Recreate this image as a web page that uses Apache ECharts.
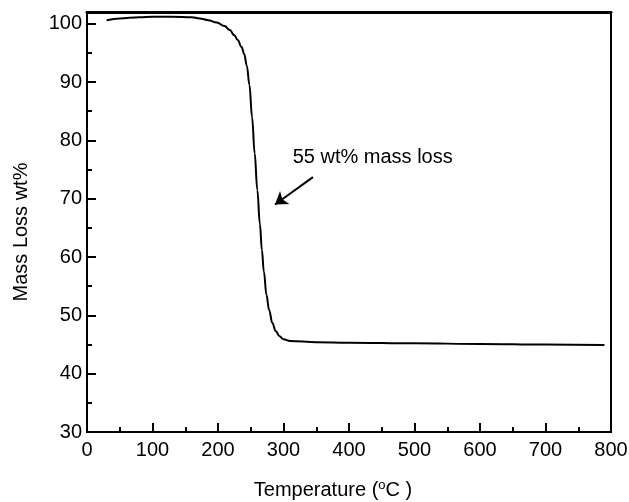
<!DOCTYPE html>
<html>
<head>
<meta charset="utf-8">
<script src="https://cdn.jsdelivr.net/npm/echarts@6/dist/echarts.min.js"></script>
<style>
  html, body { margin: 0; padding: 0; background: #fff; }
  #chart { width: 629px; height: 502px; }
</style>
</head>
<body>
<div id="chart"></div>
<script>
// TGA curve
var temps = [30, 50, 80, 100, 130, 160, 172, 185, 198, 210, 218, 225, 230, 236, 240, 244, 248, 252, 256, 260, 264, 267, 270, 274, 278, 283, 288, 294, 300, 310, 350, 400, 500, 600, 700, 790];
var mass = [100.6, 100.9, 101.1, 101.2, 101.2, 101.1, 100.9, 100.6, 100.2, 99.6, 98.9, 98.0, 97.2, 96.0, 94.8, 92.8, 89.5, 84.0, 77.8, 71.5, 65.6, 61.2, 57.5, 53.5, 50.9, 48.7, 47.3, 46.4, 45.9, 45.6, 45.4, 45.3, 45.2, 45.1, 45.0, 44.9];

var xTicks = [0, 100, 200, 300, 400, 500, 600, 700, 800];
var yTicks = [30, 40, 50, 60, 70, 80, 90, 100];

// annotation
var noteText = '55 wt% mass loss';
var notePos = [314, 77.1];
var arrowFrom = [345, 73.7];
var arrowTo = [287, 69.0];

var points = [];
for (var i = 0; i < temps.length; i++) {
	points.push([temps[i], mass[i]]);
}

var font = 'Liberation Sans, Arial, sans-serif';
var fs = 20;
var myChart = echarts.init(document.getElementById('chart'));

var option = {
	animation: false,
	grid: {
		left: 87, right: 18, top: 12, bottom: 70,
		outerBoundsMode: 'none',
		show: true, borderColor: '#000', borderWidth: 2
	},
	xAxis: [{
		type: 'value',
		min: xTicks[0],
		max: xTicks[xTicks.length - 1],
		interval: 100,
		name: '{a|Temperature (}{s|o}{a|C )}',
		nameLocation: 'middle',
		nameGap: 47,
		nameTextStyle: {
			padding: [0, 32, 0, 0],
			rich: {
				a: { fontFamily: font, fontSize: fs, color: '#000' },
				s: { fontFamily: font, fontSize: 13, color: '#000', verticalAlign: 'top', padding: [0, 0, 9, 0] }
			}
		},
		axisLine: { lineStyle: { color: '#000', width: 2 } },
		axisTick: { inside: true, length: 9, lineStyle: { color: '#000', width: 2 } },
		minorTick: { show: true, splitNumber: 2, length: 5, lineStyle: { color: '#000', width: 2 } },
		axisLabel: { color: '#000', fontFamily: font, fontSize: fs, margin: 8 },
		splitLine: { show: false }
	}, {
		type: 'value',
		position: 'top',
		min: xTicks[0],
		max: xTicks[xTicks.length - 1],
		axisLine: { show: true, lineStyle: { color: '#000', width: 3 } },
		axisTick: { show: false },
		axisLabel: { show: false },
		splitLine: { show: false }
	}],
	yAxis: [{
		type: 'value',
		min: yTicks[0],
		max: 102,
		interval: 10,
		name: 'Mass Loss wt%',
		nameLocation: 'middle',
		nameGap: 56,
		nameTextStyle: { color: '#000', fontFamily: font, fontSize: fs, padding: [0, 20, 0, 0] },
		axisLine: { show: true, lineStyle: { color: '#000', width: 2 } },
		axisTick: { inside: true, length: 9, lineStyle: { color: '#000', width: 2 } },
		minorTick: { show: true, splitNumber: 2, length: 5, lineStyle: { color: '#000', width: 2 } },
		axisLabel: {
			color: '#000', fontFamily: font, fontSize: fs, margin: 5,
			formatter: function (v) { return yTicks.indexOf(v) >= 0 ? v : ''; }
		},
		splitLine: { show: false }
	}, {
		type: 'value',
		position: 'right',
		min: yTicks[0],
		max: 102,
		axisLine: { show: true, lineStyle: { color: '#000', width: 2 } },
		axisTick: { show: false },
		axisLabel: { show: false },
		splitLine: { show: false }
	}],
	series: [{
		type: 'line',
		data: points,
		smooth: 0.4,
		smoothMonotone: 'x',
		showSymbol: false,
		lineStyle: { color: '#000', width: 2 },
		markLine: {
			silent: true,
			symbol: ['none', 'arrow'],
			symbolSize: 12,
			label: { show: false },
			lineStyle: { color: '#000', width: 2, type: 'solid' },
			data: [[{ coord: arrowFrom }, { coord: arrowTo }]]
		},
		markPoint: {
			silent: true,
			symbol: 'circle',
			symbolSize: 0,
			data: [{ coord: notePos }],
			label: {
				show: true,
				position: 'right',
				distance: 0,
				formatter: noteText,
				color: '#000',
				fontFamily: font,
				fontSize: fs
			}
		}
	}]
};

myChart.setOption(option);
</script>
</body>
</html>
